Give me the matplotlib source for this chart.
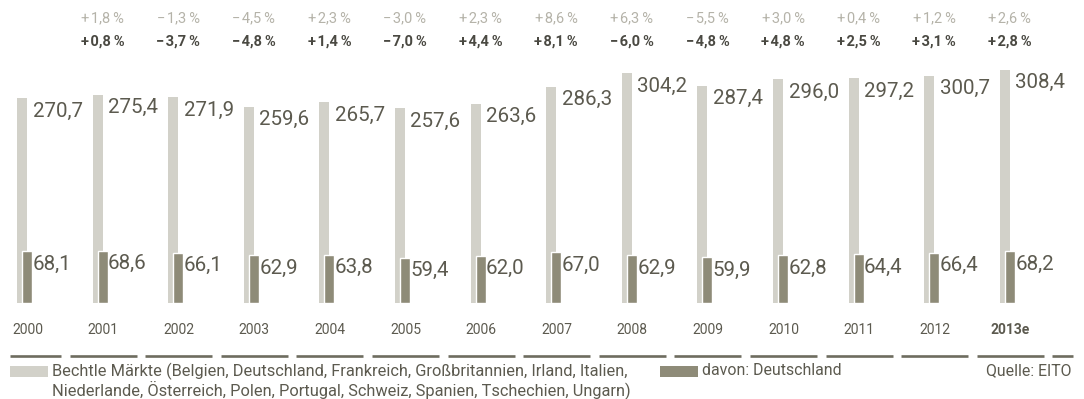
import matplotlib
matplotlib.use("Agg")
import matplotlib.pyplot as plt
from matplotlib.transforms import blended_transform_factory
from matplotlib.patches import Rectangle

# --- data -------------------------------------------------------------
years = ["2000", "2001", "2002", "2003", "2004", "2005", "2006",
         "2007", "2008", "2009", "2010", "2011", "2012", "2013e"]
markets = [270.7, 275.4, 271.9, 259.6, 265.7, 257.6, 263.6,
           286.3, 304.2, 287.4, 296.0, 297.2, 300.7, 308.4]
germany = [68.1, 68.6, 66.1, 62.9, 63.8, 59.4, 62.0,
           67.0, 62.9, 59.9, 62.8, 64.4, 66.4, 68.2]
markets_change = [None, "+1,8", "−1,3", "−4,5", "+2,3", "−3,0", "+2,3",
                  "+8,6", "+6,3", "−5,5", "+3,0", "+0,4", "+1,2", "+2,6"]
germany_change = [None, "+0,8", "−3,7", "−4,8", "+1,4", "−7,0", "+4,4",
                  "+8,1", "−6,0", "−4,8", "+4,8", "+2,5", "+3,1", "+2,8"]

legend_markets = ("Bechtle Märkte (Belgien, Deutschland, Frankreich, Großbritannien, Irland, Italien,\n"
                  "Niederlande, Österreich, Polen, Portugal, Schweiz, Spanien, Tschechien, Ungarn)")
legend_germany = "davon: Deutschland"
source = "Quelle: EITO"

# --- style -------------------------------------------------------------
LIGHT = "#d2d1c9"
DARK = "#8e8b78"
TEXT = "#5c5a4f"
PCT_LIGHT = "#b5b3a9"
PCT_DARK = "#4a4942"
RULE = "#6e6c5f"
FONT = ["Roboto", "DejaVu Sans"]
HAIR = "\u200a"


def pct(s):
    """Format a change value with a little air before the percent sign."""
    return s[0] + HAIR + s[1:] + HAIR + HAIR + "%"


W, H = 1084, 399
fig = plt.figure(figsize=(W / 100, H / 100), dpi=100)

STEP = 75.6          # pixel distance between year groups
X0 = 17.0            # left edge of the first bar in pixels
px = 1.0 / STEP      # one pixel in x data units

ax = fig.add_axes([0, 96.3 / H, 1, 302 / H])
ax.set_xlim(-X0 / STEP, (W - X0) / STEP)
ax.set_ylim(0, 400)
ax.axis("off")

xs = list(range(len(years)))
bw = 10 * px
ax.bar(xs, markets, width=bw, align="edge", color=LIGHT, linewidth=0)
ax.bar([x + 5 * px for x in xs], germany, width=bw, align="edge",
       color=DARK, edgecolor="white", linewidth=1.0)

for series in (markets, germany):
    for x, v in zip(xs, series):
        ax.annotate(f"{v:.1f}".replace(".", ","), xy=(x + 15.5 * px, v),
                    xytext=(0, -2.5), textcoords="offset points",
                    ha="left", va="top", fontsize=14.8, family=FONT, color=TEXT)

fig_y = blended_transform_factory(ax.transData, fig.transFigure)

# year labels
for x, y in zip(xs, years):
    bold = y.endswith("e")
    ax.text(x + 10.5 * px, 1 - 330 / H, y, transform=fig_y, ha="center",
            va="center", fontsize=10, family=FONT, color=TEXT,
            fontweight="bold" if bold else "normal", clip_on=False)

# percentage change rows
for x, a, b in zip(xs, markets_change, germany_change):
    if a is None:
        continue
    ax.text(x + 10 * px, 1 - 18 / H, pct(a), transform=fig_y, ha="center",
            va="center", fontsize=10.5, family=FONT, color=PCT_LIGHT, clip_on=False)
    ax.text(x + 10 * px, 1 - 42 / H, pct(b), transform=fig_y, ha="center",
            va="center", fontsize=10.5, family=FONT, color=PCT_DARK,
            fontweight="bold", clip_on=False)

# segmented rule under the year labels
rule_y = 1 - 356 / H
for k in range(len(years) + 1):
    left = k + (10.5 - 33.5) * px
    right = k + (10.5 + 33.5) * px
    left = max(left, (10 - X0) * px)
    right = min(right, (1073 - X0) * px)
    if right > left:
        ax.plot([left, right], [rule_y, rule_y], transform=fig_y, color=RULE,
                linewidth=1.9, solid_capstyle="butt", clip_on=False)

# legend
fig.patches.append(Rectangle((10 / W, 1 - 377 / H), 38 / W, 11 / H,
                             transform=fig.transFigure, color=LIGHT, linewidth=0))
fig.text(52 / W, 1 - 363 / H, legend_markets, ha="left", va="top",
         fontsize=11.8, family=FONT, color=TEXT, linespacing=1.0)
fig.patches.append(Rectangle((660 / W, 1 - 377 / H), 38 / W, 11 / H,
                             transform=fig.transFigure, color=DARK, linewidth=0))
fig.text(702 / W, 1 - 363 / H, legend_germany, ha="left", va="top",
         fontsize=11.4, family=FONT, color=TEXT)
fig.text(1072 / W, 1 - 363 / H, source, ha="right", va="top",
         fontsize=11.4, family=FONT, color=TEXT)

fig.savefig("out.png", dpi=100)
